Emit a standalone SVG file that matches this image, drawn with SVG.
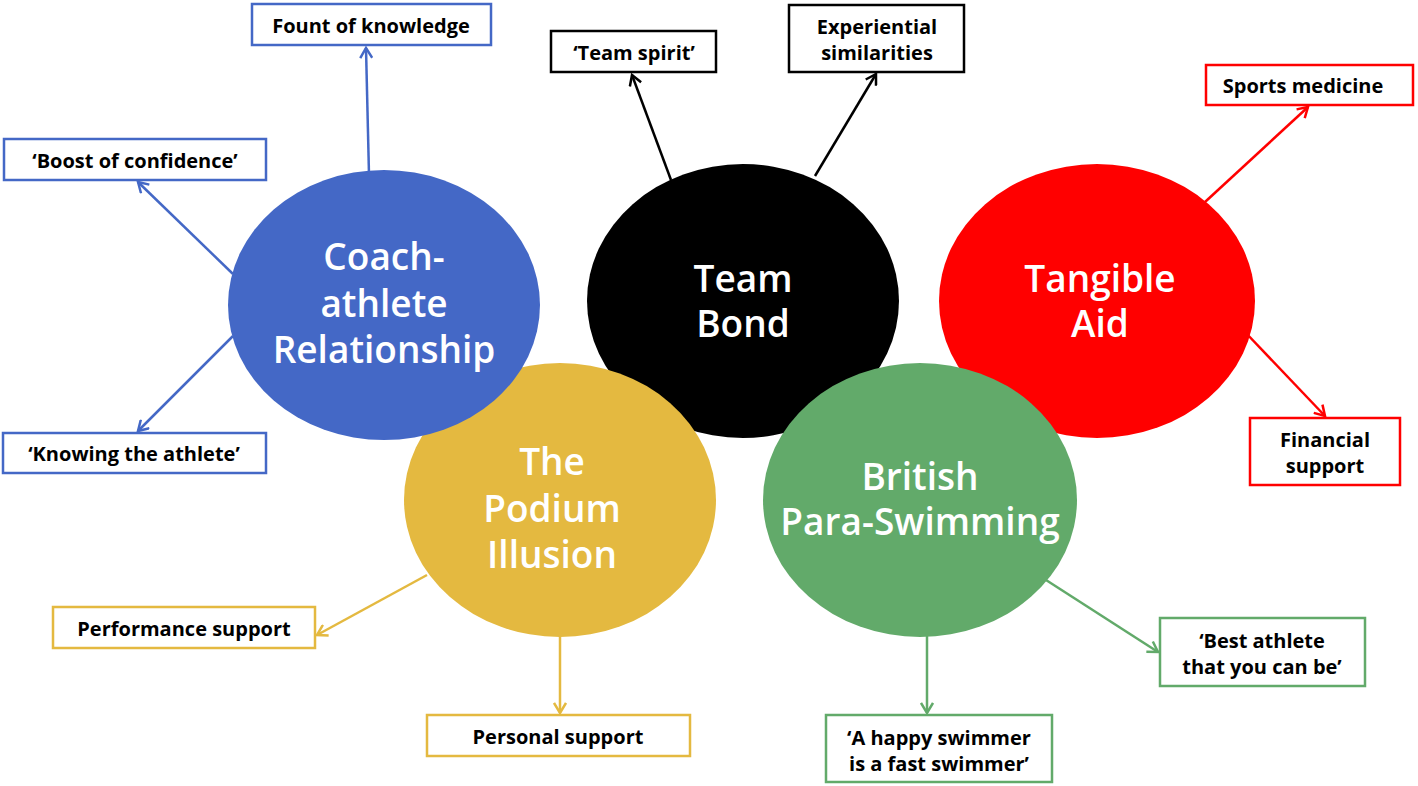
<svg xmlns="http://www.w3.org/2000/svg" width="1418" height="786" viewBox="0 0 1418 786">
<style>
.lbl{font-family:"Open Sans",Lato,sans-serif;font-weight:bold;font-size:20px;fill:#000;text-anchor:middle;dominant-baseline:central}
.big{font-family:"Open Sans",Lato,sans-serif;font-weight:600;font-size:37px;fill:#fff;text-anchor:middle;dominant-baseline:central}
.box{fill:#fff;stroke-width:2.5}
.c{fill:none;stroke-width:2.5}
</style>
<defs>
<marker id="mb" markerWidth="14" markerHeight="14" refX="12" refY="7" orient="auto" markerUnits="userSpaceOnUse"><path d="M2,1 L12,7 L2,13" fill="none" stroke="#4468C6" stroke-width="2.5"/></marker>
<marker id="mk" markerWidth="14" markerHeight="14" refX="12" refY="7" orient="auto" markerUnits="userSpaceOnUse"><path d="M2,1 L12,7 L2,13" fill="none" stroke="#000" stroke-width="2.5"/></marker>
<marker id="mr" markerWidth="14" markerHeight="14" refX="12" refY="7" orient="auto" markerUnits="userSpaceOnUse"><path d="M2,1 L12,7 L2,13" fill="none" stroke="#FF0000" stroke-width="2.5"/></marker>
<marker id="my" markerWidth="14" markerHeight="14" refX="12" refY="7" orient="auto" markerUnits="userSpaceOnUse"><path d="M2,1 L12,7 L2,13" fill="none" stroke="#E4B940" stroke-width="2.5"/></marker>
<marker id="mg" markerWidth="14" markerHeight="14" refX="12" refY="7" orient="auto" markerUnits="userSpaceOnUse"><path d="M2,1 L12,7 L2,13" fill="none" stroke="#62AA6A" stroke-width="2.5"/></marker>
</defs>
<rect width="1418" height="786" fill="#fff"/>
<g id="connectors">
<line class="c" stroke="#4468C6" x1="369" y1="175" x2="366" y2="48" marker-end="url(#mb)"/>
<line class="c" stroke="#4468C6" x1="233" y1="274" x2="138" y2="182" marker-end="url(#mb)"/>
<line class="c" stroke="#4468C6" x1="233" y1="336" x2="138" y2="431" marker-end="url(#mb)"/>
<line class="c" stroke="#E4B940" x1="427" y1="575" x2="317" y2="635" marker-end="url(#my)"/>
<line class="c" stroke="#E4B940" x1="560" y1="636" x2="560" y2="713" marker-end="url(#my)"/>
<line class="c" stroke="#000" x1="671" y1="180" x2="632" y2="75" marker-end="url(#mk)"/>
<line class="c" stroke="#000" x1="815" y1="176" x2="876" y2="74" marker-end="url(#mk)"/>
<line class="c" stroke="#FF0000" x1="1205" y1="202" x2="1308" y2="107" marker-end="url(#mr)"/>
<line class="c" stroke="#FF0000" x1="1245" y1="332" x2="1325" y2="416" marker-end="url(#mr)"/>
<line class="c" stroke="#62AA6A" x1="1046" y1="580" x2="1158" y2="652" marker-end="url(#mg)"/>
<line class="c" stroke="#62AA6A" x1="927" y1="636" x2="927" y2="713" marker-end="url(#mg)"/>
</g>
<g id="team-bond"><ellipse cx="743" cy="301" rx="156" ry="137" fill="#000"/><text class="big" x="743"><tspan x="743" y="277">Team</tspan><tspan x="743" y="322">Bond</tspan></text></g>
<g id="tangible-aid"><ellipse cx="1097" cy="301" rx="158" ry="137" fill="#FF0000"/><text class="big"><tspan x="1100" y="277">Tangible</tspan><tspan x="1100" y="322">Aid</tspan></text></g>
<g id="podium-illusion"><ellipse cx="560" cy="500" rx="156" ry="137" fill="#E4B940"/><text class="big"><tspan x="552" y="460">The</tspan><tspan x="552" y="507">Podium</tspan><tspan x="552" y="553">Illusion</tspan></text></g>
<g id="british-para-swimming"><ellipse cx="920" cy="500" rx="157" ry="137" fill="#62AA6A"/><text class="big"><tspan x="920" y="475">British</tspan><tspan x="920" y="520">Para-Swimming</tspan></text></g>
<g id="coach-athlete"><ellipse cx="384" cy="305" rx="156" ry="135" fill="#4468C6"/><text class="big"><tspan x="384" y="255">Coach-</tspan><tspan x="384" y="302">athlete</tspan><tspan x="384" y="348">Relationship</tspan></text></g>
<g id="fount"><rect class="box" stroke="#4468C6" x="252" y="4" width="239" height="41"/><text class="lbl" x="371" y="25">Fount of knowledge</text></g>
<g id="boost"><rect class="box" stroke="#4468C6" x="4" y="139" width="262" height="41"/><text class="lbl" x="135" y="160">‘Boost of confidence’</text></g>
<g id="knowing"><rect class="box" stroke="#4468C6" x="3" y="433" width="263" height="40"/><text class="lbl" x="134" y="453">‘Knowing the athlete’</text></g>
<g id="performance"><rect class="box" stroke="#E4B940" x="53" y="607" width="262" height="41"/><text class="lbl" x="184" y="628">Performance support</text></g>
<g id="personal"><rect class="box" stroke="#E4B940" x="427" y="715" width="263" height="41"/><text class="lbl" x="558" y="736">Personal support</text></g>
<g id="team-spirit"><rect class="box" stroke="#000" x="551" y="31" width="165" height="41"/><text class="lbl" x="634" y="52">‘Team spirit’</text></g>
<g id="experiential"><rect class="box" stroke="#000" x="789" y="5" width="175" height="67"/><text class="lbl"><tspan x="877" y="26">Experiential</tspan><tspan x="877" y="52">similarities</tspan></text></g>
<g id="sports-medicine"><rect class="box" stroke="#FF0000" x="1206" y="65" width="207" height="40"/><text class="lbl" x="1303" y="85">Sports medicine</text></g>
<g id="financial"><rect class="box" stroke="#FF0000" x="1250" y="418" width="150" height="67"/><text class="lbl"><tspan x="1325" y="439">Financial</tspan><tspan x="1325" y="465">support</tspan></text></g>
<g id="best-athlete"><rect class="box" stroke="#62AA6A" x="1160" y="618" width="205" height="68"/><text class="lbl"><tspan x="1262" y="640">‘Best athlete</tspan><tspan x="1262" y="666">that you can be’</tspan></text></g>
<g id="happy-swimmer"><rect class="box" stroke="#62AA6A" x="826" y="715" width="226" height="67"/><text class="lbl"><tspan x="939" y="737">‘A happy swimmer</tspan><tspan x="939" y="763">is a fast swimmer’</tspan></text></g>
</svg>
